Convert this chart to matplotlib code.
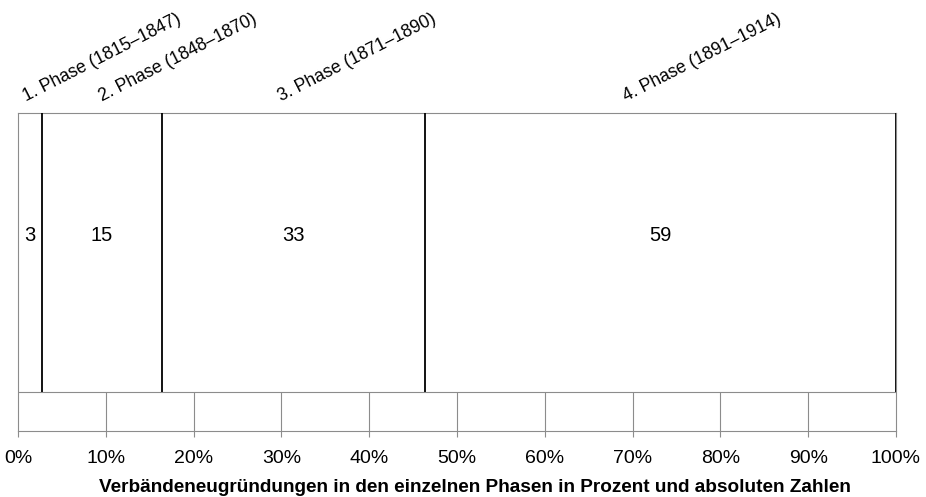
import numpy as np
import matplotlib.pyplot as plt
from matplotlib.transforms import offset_copy

# data
phases = ["1. Phase (1815–1847)", "2. Phase (1848–1870)",
          "3. Phase (1871–1890)", "4. Phase (1891–1914)"]
counts = [3, 15, 33, 59]
ticks = list(range(0, 101, 10))
tick_labels = [f"{t}%" for t in ticks]
xlabel = "Verbändeneugründungen in den einzelnen Phasen in Prozent und absoluten Zahlen"

plt.rcParams["font.family"] = ["Liberation Sans", "DejaVu Sans"]

share = np.array(counts) / sum(counts) * 100
left = np.concatenate([[0], np.cumsum(share)[:-1]])
right = left + share
center = left + share / 2

grey = "#8c8c8c"
W, H = 926, 497
fig = plt.figure(figsize=(W / 100, H / 100), dpi=100)
ax = fig.add_axes([18 / W, 66 / H, 878 / W, 318 / H])
strip = 39 / 318  # height of the lower scale strip, axes fraction

ax.set_xlim(0, 100)
ax.set_ylim(0, 1)
ax.barh(strip, share, left=left, height=1 - strip, align="edge",
        color="white", edgecolor="none")
ax.vlines(right, strip, 1, color="black", lw=1.3, zorder=3)
ax.axhline(strip, color=grey, lw=0.8)
ax.vlines(ticks[1:-1], 0, strip, color=grey, lw=0.8)

for sp in ax.spines.values():
    sp.set_color(grey)
    sp.set_linewidth(0.8)

ax.set_yticks([])
ax.set_xticks(ticks)
ax.set_xticklabels(tick_labels, fontsize=14)
ax.tick_params(axis="x", length=4, width=0.8, color=grey, pad=10)

for c, n in zip(center, counts):
    ax.text(c, 0.615, str(n), ha="center", va="center", fontsize=14.5)

# rotated phase names above each segment
label_shift = [-2.5, 0, -8.5, -24.5]
for c, name, dx in zip(center, phases, label_shift):
    tr = offset_copy(ax.transData, fig=fig, x=dx, y=0, units="points")
    ax.text(c, 1.035, name, transform=tr, rotation=27, rotation_mode="anchor",
            ha="left", va="baseline", fontsize=12.7, clip_on=False)

fig.text(475 / W, 1 - 488 / H, xlabel, ha="center", va="center",
         fontsize=13.7, fontweight="bold")

fig.savefig("out.png", dpi=100)
